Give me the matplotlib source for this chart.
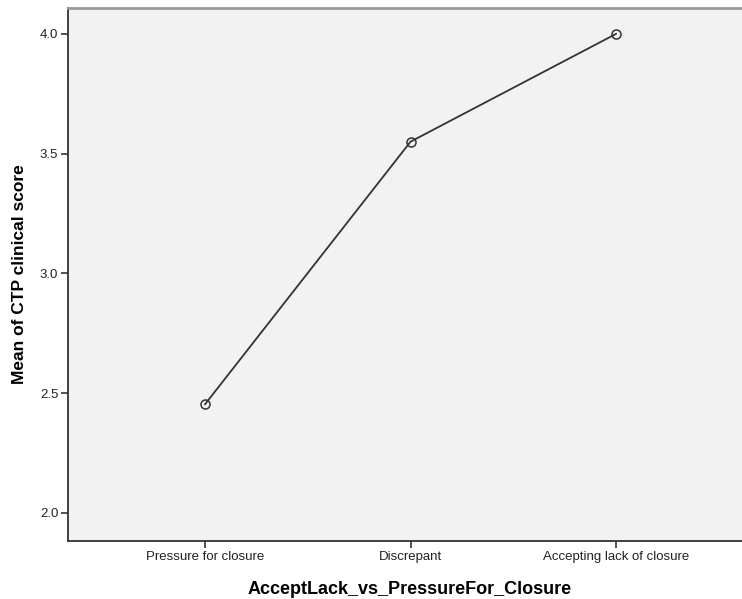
import matplotlib
matplotlib.use('Agg')
import matplotlib.pyplot as plt

# Valeurs
categories = ['Pressure for closure', 'Discrepant', 'Accepting lack of closure']
mean_scores = [2.454, 3.55, 4.0]
y_ticks = [2.0, 2.5, 3.0, 3.5, 4.0]

plt.rcParams['font.family'] = ['Liberation Sans', 'DejaVu Sans']

fig = plt.figure(figsize=(7.42, 5.99), dpi=100)
ax = fig.add_axes([68 / 742, 58 / 599, 1 - 68 / 742, 533 / 599])
ax.set_facecolor('#f2f2f2')

x = list(range(len(categories)))
ax.plot(x, mean_scores, color='#333333', linewidth=1.3,
        marker='o', markersize=6.5, markerfacecolor='none',
        markeredgecolor='#333333', markeredgewidth=1.1)

ax.set_xlim(-0.667, 2.613)
ax.set_ylim(1.883, 4.108)
ax.set_xticks(x)
ax.set_xticklabels(categories)
ax.set_yticks(y_ticks)
ax.set_yticklabels([f'{v:.1f}' for v in y_ticks])
ax.tick_params(axis='both', direction='out', length=5, width=1.2,
               color='#333333', labelsize=9.5, labelcolor='#222222', pad=2)

for side in ['left', 'bottom']:
    ax.spines[side].set_color('#333333')
    ax.spines[side].set_linewidth(1.3)
ax.spines['top'].set_color('#999999')
ax.spines['top'].set_linewidth(2)
ax.spines['right'].set_visible(False)

ax.set_xlabel('AcceptLack_vs_PressureFor_Closure', fontsize=13,
              fontweight='bold', labelpad=12)
ax.xaxis.set_label_coords(0.507, -0.075)
ax.set_ylabel('Mean of CTP clinical score', fontsize=12.5,
              fontweight='bold', labelpad=9)

plt.savefig('out.png', dpi=100)
plt.close()
